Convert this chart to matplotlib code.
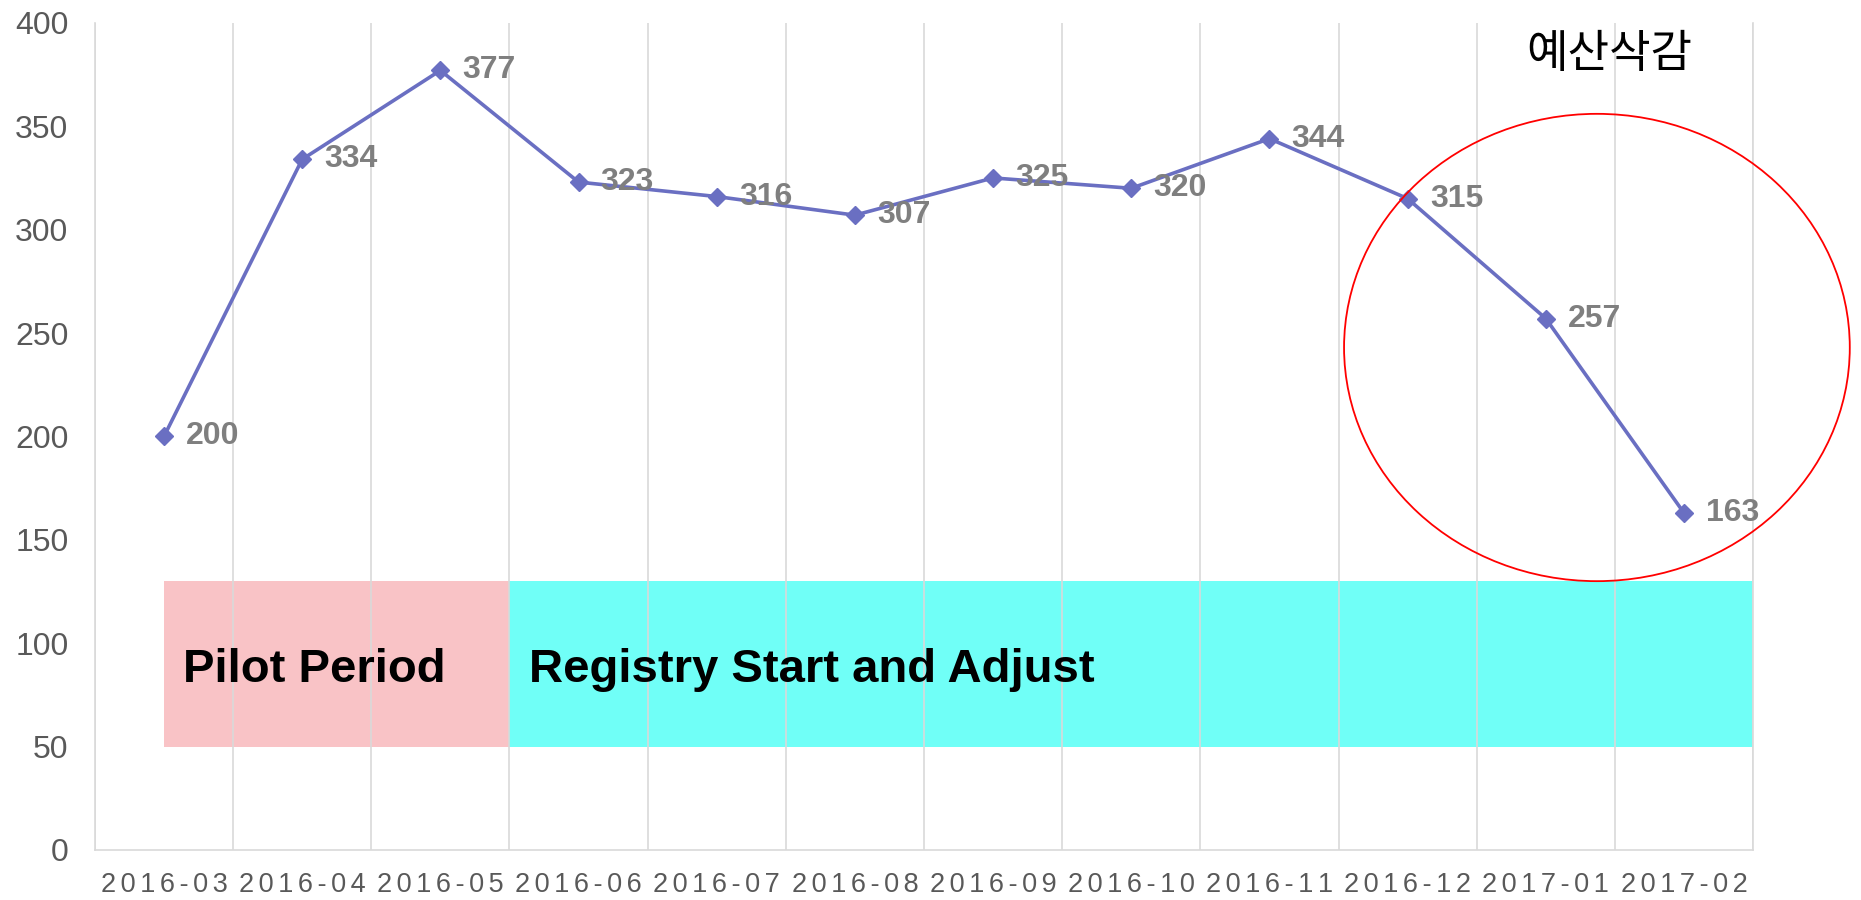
import matplotlib.pyplot as plt
from matplotlib.patches import Ellipse, Rectangle

plt.rcParams['font.family'] = ['Liberation Sans', 'Noto Sans CJK KR', 'DejaVu Sans']

months = ['2016-03', '2016-04', '2016-05', '2016-06', '2016-07', '2016-08',
          '2016-09', '2016-10', '2016-11', '2016-12', '2017-01', '2017-02']
counts = [200, 334, 377, 323, 316, 307, 325, 320, 344, 315, 257, 163]

# phase bands (in month index units) and their labels
phase_names = ['Pilot Period', 'Registry Start and Adjust']
phase_start = [0, 2.5]
phase_end = [2.5, 11.5]
phase_colors = ['#f9c3c6', '#70fff7']
band_low, band_high = 50, 130

note_text = '예산삭감'

fig = plt.figure(figsize=(18.61, 9), dpi=100)
ax = fig.add_axes([0.051, 0.0556, 0.891, 0.919])

xs = list(range(len(months)))

# background bands
for name, s, e, c in zip(phase_names, phase_start, phase_end, phase_colors):
    ax.add_patch(Rectangle((s, band_low), e - s, band_high - band_low,
                           facecolor=c, edgecolor='none', zorder=1))
    ax.text(s + 0.14, 87, name, fontsize=34, fontweight='bold',
            color='black', ha='left', va='center', zorder=2)

ax.plot(xs, counts, color='#6a6fc2', lw=2.6, marker='D', ms=9.5, zorder=3)

for x, v in zip(xs, counts):
    ax.annotate(str(v), (x, v), xytext=(16, 0), textcoords='offset points',
                ha='left', va='center', fontsize=23, fontweight='bold',
                color='#7f7f7f', zorder=4)

# highlight of the drop
ax.add_patch(Ellipse((10.37, 243), 3.66, 226, facecolor='none',
                     edgecolor='red', lw=1.3, zorder=5, clip_on=False))
ax.text(10.46, 385, note_text, fontsize=32.5, ha='center', va='center',
        family=['Noto Sans CJK KR', 'DejaVu Sans'])

ax.set_xlim(-0.5, 11.5)
ax.set_ylim(0, 400)
ax.set_yticks(range(0, 401, 50))
ax.set_xticks(xs)
ax.set_xticklabels(['\u2006'.join(m) for m in months])
ax.set_xticks([i - 0.5 for i in range(len(months) + 1)], minor=True)
ax.grid(True, which='minor', axis='x', color='#d9d9d9', lw=1.2)
ax.tick_params(axis='both', which='both', length=0)
ax.tick_params(axis='y', labelsize=23, labelcolor='#595959', pad=19)
ax.tick_params(axis='x', labelsize=19.5, labelcolor='#595959', pad=16)

ax.spines['top'].set_visible(False)
for side in ['left', 'right', 'bottom']:
    ax.spines[side].set_color('#d9d9d9')
    ax.spines[side].set_linewidth(1.2)

fig.savefig('out.png', dpi=100)
